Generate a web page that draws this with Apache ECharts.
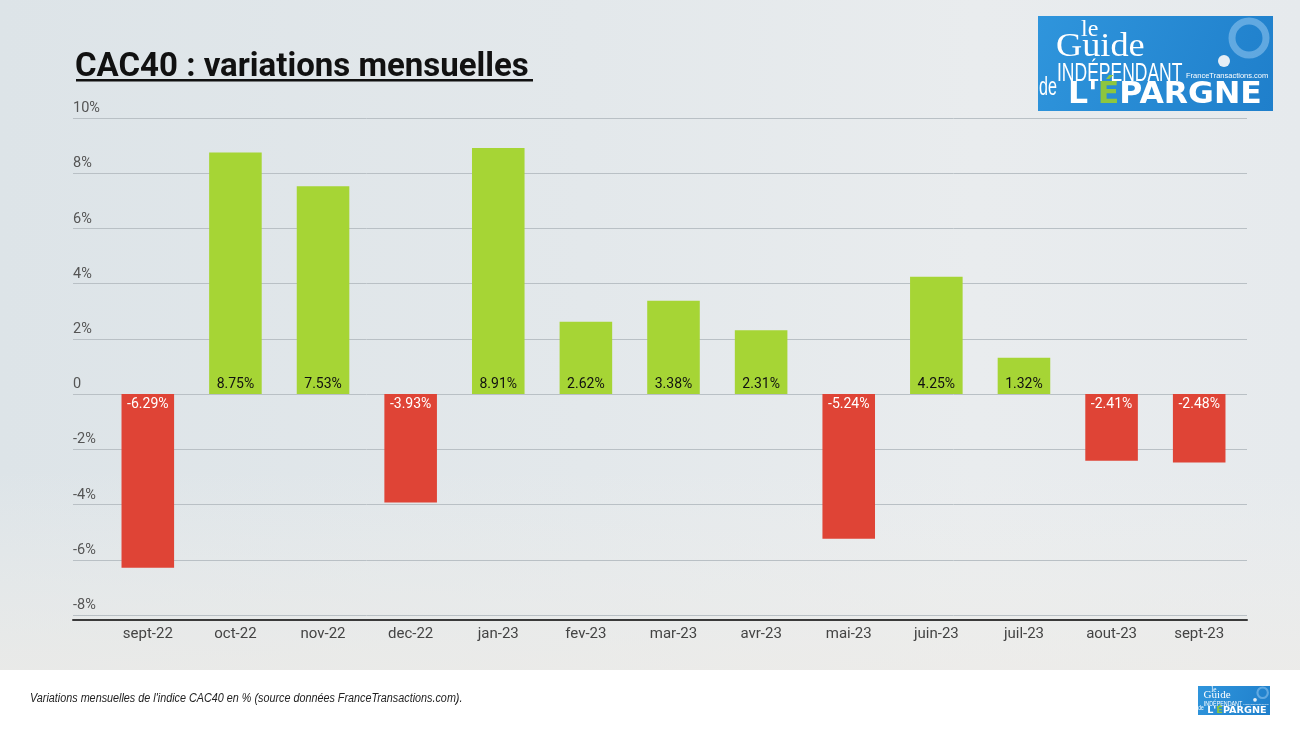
<!DOCTYPE html>
<html><head><meta charset="utf-8">
<script src="https://cdn.jsdelivr.net/npm/echarts@6/dist/echarts.min.js"></script>
<style>html,body{margin:0;padding:0;background:#fff}#c{width:1300px;height:731px}</style>
</head><body><div id="c"></div>
<script>
const categories = ['sept-22','oct-22','nov-22','dec-22','jan-23','fev-23','mar-23','avr-23','mai-23','juin-23','juil-23','aout-23','sept-23'];
const values = [-6.29, 8.75, 7.53, -3.93, 8.91, 2.62, 3.38, 2.31, -5.24, 4.25, 1.32, -2.41, -2.48];
const yMin = -8, yMax = 10, yStep = 2;
const titleText = 'CAC40 : variations mensuelles';
const footerText = "Variations mensuelles de l'indice CAC40 en % (source données FranceTransactions.com).";

const GREEN = '#a6d535', RED = '#df4436';

function logo(x, y, s) {
  return {
    type: 'group', x: x, y: y, scaleX: s, scaleY: s, z: 10,
    children: [
      {type:'rect', shape:{x:0,y:0,width:235,height:95},
       style:{fill:{type:'linear',x:0,y:0,x2:1,y2:1,colorStops:[{offset:0,color:'#2f95dc'},{offset:1,color:'#1f7fcb'}]}}},
      {type:'circle', shape:{cx:211,cy:22,r:17}, style:{fill:'none',stroke:'rgba(150,200,240,0.55)',lineWidth:7}},
      {type:'text', x:43, y:2, style:{text:'le', fill:'#fff', font:'24px "Liberation Serif", serif'}},
      {type:'text', x:18, y:14.5, scaleX:1.1, style:{text:'Guide', fill:'#fff', font:'33px "Liberation Serif", serif'}},
      {type:'text', x:19, y:46, scaleX:0.7, style:{text:'INDÉPENDANT', fill:'#fff', font:'25px "Liberation Sans", sans-serif'}},
      {type:'text', x:148, y:56, style:{text:'FranceTransactions.com', fill:'#fff', font:'7.5px "Liberation Sans", sans-serif'}},
      {type:'circle', shape:{cx:186,cy:45,r:6}, style:{fill:'#e6eef5'}},
      {type:'text', x:1, y:59, scaleX:0.62, style:{text:'de', fill:'#fff', font:'26px "Liberation Sans", sans-serif'}},
      {type:'text', x:30, y:64, scaleX:1.05, style:{
        text:"{w|L'}{g|É}{w|PARGNE}",
        rich:{
          w:{fill:'#fff', font:'bold 30px "DejaVu Sans", sans-serif'},
          g:{fill:'#8dc63f', font:'bold 30px "DejaVu Sans", sans-serif'}
        }}}
    ]
  };
}

const chart = echarts.init(document.getElementById('c'));
const axisLabelY = {
  inside: true, margin: 0, verticalAlign: 'bottom', padding: [0,0,2,0],
  color: '#555', fontSize: 14.5, fontFamily: 'Roboto',
  formatter: v => v === 0 ? '0' : v + '%'
};
chart.setOption({
  backgroundColor: '#ffffff',
  animation: false,
  graphic: [
    {type:'rect', z:-10, shape:{x:0,y:0,width:1300,height:670},
     style:{fill:{type:'linear',x:0,y:0,x2:1,y2:0,colorStops:[
       {offset:0,color:'#dde4e8'},{offset:0.45,color:'#e3e8eb'},{offset:0.75,color:'#e9ecee'},{offset:1,color:'#e6eaed'}]}}},
    {type:'rect', z:-9, shape:{x:0,y:470,width:1300,height:200},
     style:{fill:{type:'linear',x:0,y:0,x2:0,y2:1,colorStops:[
       {offset:0,color:'rgba(240,240,238,0)'},{offset:1,color:'rgba(238,236,232,0.7)'}]}}},
    {type:'text', x:75, y:51, z:10, style:{text:titleText, fill:'#111', font:'bold 33px Roboto'}},
    {type:'rect', x:76, y:79, z:10, shape:{width:457,height:2.5}, style:{fill:'#111'}},
    {type:'text', x:30, y:693, z:10, scaleX:0.9, style:{text:footerText, fill:'#222', font:'italic 12px "Liberation Sans", sans-serif'}},
    logo(1038, 16, 1),
    logo(1198, 686, 72/235)
  ],
  grid: [
    {left:104, right:57, top:118, bottom:116},
    {left:73, right:53, top:118, bottom:116}
  ],
  xAxis: [
    {gridIndex:0, type:'category', data:categories, axisLine:{show:false}, axisTick:{show:false},
     axisLabel:{margin:12, color:'#444', fontSize:15, fontFamily:'Roboto'}},
    {gridIndex:1, type:'category', data:[''], position:'bottom', offset:5,
     axisLine:{onZero:false, lineStyle:{color:'#3a3a3a', width:2}}, axisTick:{show:false}, axisLabel:{show:false}}
  ],
  yAxis: [
    {gridIndex:0, type:'value', min:yMin, max:yMax, interval:yStep, show:false, splitLine:{show:false}},
    {gridIndex:1, type:'value', min:yMin, max:yMax, interval:yStep,
     axisLine:{show:false}, axisTick:{show:false}, axisLabel:axisLabelY,
     splitLine:{lineStyle:{color:'#b9c0c5', width:1}}}
  ],
  series: [{
    type:'bar', xAxisIndex:0, yAxisIndex:0, barWidth:'60%',
    data: values.map(v => ({
      value: v,
      itemStyle: {color: v >= 0 ? GREEN : RED},
      label: {
        show: true,
        position: v >= 0 ? 'insideBottom' : 'insideTop',
        distance: 3,
        color: v >= 0 ? '#111' : '#fff',
        fontSize: 14, fontFamily: 'Roboto',
        formatter: p => p.value.toFixed(2) + '%'
      }
    }))
  }]
});
</script></body></html>
